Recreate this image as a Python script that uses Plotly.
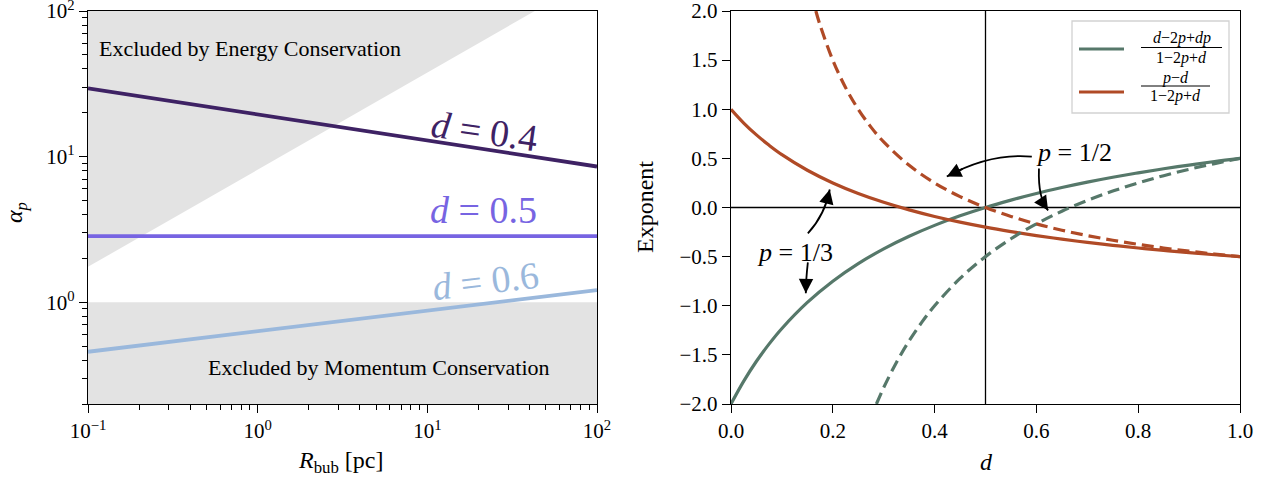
import plotly.graph_objects as go

W, H = 1266, 478
FONT = "Liberation Serif"

# ---- left panel: alpha_p versus bubble radius (power laws, straight in log-log)
R_ends = [0.1, 100.0]
alpha_d04 = [29.4, 8.55]
alpha_d05 = [2.84, 2.84]
alpha_d06 = [0.457, 1.21]

# energy-conservation boundary (alpha rises as R^(2/3)) and momentum floor
energy_R = [0.1, 43.0, 0.1]
energy_alpha = [1.75, 100.0, 100.0]
momentum_R = [0.1, 100.0, 100.0, 0.1]
momentum_alpha = [1.0, 1.0, 0.1, 0.1]

# ---- right panel: exponents versus d, for p = 1/3 (solid) and p = 1/2 (dashed)
d_solid = [0.0, 0.025, 0.05, 0.075, 0.1, 0.15, 0.2, 0.25, 0.3, 0.35, 0.4, 0.45,
           0.5, 0.55, 0.6, 0.65, 0.7, 0.75, 0.8, 0.85, 0.9, 0.95, 1.0]
green_p13 = [-2.0, -1.767, -1.565, -1.388, -1.231, -0.966, -0.75, -0.571, -0.421,
             -0.293, -0.182, -0.085, 0.0, 0.075, 0.143, 0.203, 0.258, 0.308,
             0.353, 0.394, 0.432, 0.468, 0.5]
orange_p13 = [1.0, 0.86, 0.739, 0.633, 0.538, 0.379, 0.25, 0.143, 0.053, -0.024,
              -0.091, -0.149, -0.2, -0.245, -0.286, -0.322, -0.355, -0.385,
              -0.412, -0.437, -0.459, -0.481, -0.5]

d_orange_dash = [0.1667, 0.175, 0.2, 0.225, 0.25, 0.275, 0.3, 0.35, 0.4, 0.45,
                 0.5, 0.55, 0.6, 0.65, 0.7, 0.75, 0.8, 0.85, 0.9, 0.95, 1.0]
orange_p12 = [2.0, 1.857, 1.5, 1.222, 1.0, 0.818, 0.667, 0.429, 0.25, 0.111,
              0.0, -0.091, -0.167, -0.231, -0.286, -0.333, -0.375, -0.412,
              -0.444, -0.474, -0.5]

d_green_dash = [0.2857, 0.3, 0.325, 0.35, 0.375, 0.4, 0.45, 0.5, 0.55, 0.6,
                0.65, 0.7, 0.75, 0.8, 0.85, 0.9, 0.95, 1.0]
green_p12 = [-2.0, -1.833, -1.577, -1.357, -1.167, -1.0, -0.722, -0.5, -0.318,
             -0.167, -0.038, 0.071, 0.167, 0.25, 0.324, 0.389, 0.447, 0.5]

log_ticks = [0.1, 1, 10, 100]
log_ticktext = ["10<sup>\u22121</sup>", "10<sup>0</sup>", "10<sup>1</sup>", "10<sup>2</sup>"]
y_log_ticks = [1, 10, 100]
y_log_ticktext = ["10<sup>0</sup>", "10<sup>1</sup>", "10<sup>2</sup>"]
x_minor = [m * 10 ** e for e in (-1, 0, 1) for m in range(2, 10)]
y_minor = [m * 10 ** e for e in (-1, 0, 1) for m in range(2, 10) if m * 10 ** e >= 0.2]

C_D04 = "#3e2264"
C_D05 = "#7764e2"
C_D06 = "#9ab8dc"
C_GREEN = "#56786a"
C_ORANGE = "#b04a26"
C_GRAY = "#e3e3e3"

TOP, BOTTOM = 11, 404


def px(x):
    return x / W


def py(y):
    return 1 - y / H


fig = go.Figure()

# shaded exclusion zones
fig.add_trace(go.Scatter(x=energy_R, y=energy_alpha, fill="toself", fillcolor=C_GRAY,
                         line=dict(width=0), mode="lines", hoverinfo="skip",
                         showlegend=False, xaxis="x", yaxis="y"))
fig.add_trace(go.Scatter(x=momentum_R, y=momentum_alpha, fill="toself", fillcolor=C_GRAY,
                         line=dict(width=0), mode="lines", hoverinfo="skip",
                         showlegend=False, xaxis="x", yaxis="y"))

for ys, col in ((alpha_d04, C_D04), (alpha_d05, C_D05), (alpha_d06, C_D06)):
    fig.add_trace(go.Scatter(x=R_ends, y=ys, mode="lines", line=dict(color=col, width=3.8),
                             showlegend=False, xaxis="x", yaxis="y"))

# right panel curves
fig.add_trace(go.Scatter(x=d_solid, y=green_p13, mode="lines", line_shape="spline",
                         line=dict(color=C_GREEN, width=3.2), showlegend=False,
                         xaxis="x2", yaxis="y2"))
fig.add_trace(go.Scatter(x=d_solid, y=orange_p13, mode="lines", line_shape="spline",
                         line=dict(color=C_ORANGE, width=3.2), showlegend=False,
                         xaxis="x2", yaxis="y2"))
fig.add_trace(go.Scatter(x=d_orange_dash, y=orange_p12, mode="lines", line_shape="spline",
                         line=dict(color=C_ORANGE, width=3.2, dash="12px,6px"),
                         showlegend=False, xaxis="x2", yaxis="y2"))
fig.add_trace(go.Scatter(x=d_green_dash, y=green_p12, mode="lines", line_shape="spline",
                         line=dict(color=C_GREEN, width=3.2, dash="12px,6px"),
                         showlegend=False, xaxis="x2", yaxis="y2"))

tickfont = dict(family=FONT, size=21, color="black")
axis_common = dict(showline=True, linecolor="black", linewidth=1.4, mirror=True,
                   ticks="outside", ticklen=8, tickwidth=1.3, tickcolor="black",
                   showgrid=False, zeroline=False, tickfont=tickfont,
                   automargin=False, ticklabeloverflow="allow")

fig.update_layout(
    width=W, height=H,
    margin=dict(l=0, r=0, t=0, b=0, autoexpand=False),
    paper_bgcolor="white", plot_bgcolor="white",
    font=dict(family=FONT, color="black"),
    xaxis=dict(type="log", range=[-1, 2], domain=[px(88), px(597)],
               tickvals=log_ticks, ticktext=log_ticktext,
               minor=dict(tickvals=x_minor, ticks="outside", ticklen=5,
                          tickcolor="black", tickwidth=1),
               anchor="y", **axis_common),
    yaxis=dict(type="log", range=[-0.69897, 2], domain=[py(BOTTOM), py(TOP)],
               tickvals=y_log_ticks, ticktext=y_log_ticktext,
               minor=dict(tickvals=y_minor, ticks="outside", ticklen=5,
                          tickcolor="black", tickwidth=1),
               anchor="x", **axis_common),
    xaxis2=dict(range=[0, 1], domain=[px(731), px(1240)], dtick=0.2, tickformat=".1f",
                anchor="y2", **axis_common),
    yaxis2=dict(range=[-2, 2], domain=[py(BOTTOM), py(TOP)], dtick=0.5, tickformat=".1f",
                anchor="x2", **axis_common),
)

# reference lines at d = 1/2 and exponent = 0
fig.add_shape(type="line", xref="x2", yref="y2", x0=0.5, x1=0.5, y0=-2, y1=2,
              line=dict(color="black", width=1.3), layer="below")
fig.add_shape(type="line", xref="x2", yref="y2", x0=0, x1=1, y0=0, y1=0,
              line=dict(color="black", width=1.5), layer="below")

# curved arrows: quadratic Bezier (start, control, tip) plus a filled head
arrows = [
    ((0.591, 0.518), (0.509, 0.558), (0.424, 0.315)),
    ((0.605, 0.396), (0.603, 0.091), (0.623, -0.030)),
    ((0.151, -0.264), (0.185, -0.071), (0.194, 0.183)),
    ((0.151, -0.558), (0.147, -0.741), (0.147, -0.873)),
]
for (s, c, e) in arrows:
    fig.add_shape(type="path", xref="x2", yref="y2",
                  path=f"M {s[0]},{s[1]} Q {c[0]},{c[1]} {e[0]},{e[1]}",
                  line=dict(color="black", width=1.8))
    t = 0.8
    bx = (1 - t) ** 2 * s[0] + 2 * (1 - t) * t * c[0] + t ** 2 * e[0]
    by = (1 - t) ** 2 * s[1] + 2 * (1 - t) * t * c[1] + t ** 2 * e[1]
    fig.add_annotation(x=e[0], y=e[1], ax=bx, ay=by, xref="x2", yref="y2",
                       axref="x2", ayref="y2", text="", showarrow=True,
                       arrowhead=2, arrowsize=1.6, arrowwidth=1.8, arrowcolor="black",
                       standoff=0)


def label(x, y, text, size, color="black", angle=0, xanchor="center"):
    fig.add_annotation(x=px(x), y=py(y), xref="paper", yref="paper", text=text,
                       showarrow=False, xanchor=xanchor, yanchor="middle",
                       textangle=angle, font=dict(family=FONT, size=size, color=color))


label(97, 48, "Excluded by Energy Conservation", 22, xanchor="left")
label(206, 367, "Excluded by Momentum Conservation", 22, xanchor="left")
label(484, 131, "<i>d</i> = 0.4", 38, C_D04, angle=8)
label(483, 210, "<i>d</i> = 0.5", 38, C_D05)
label(485, 281, "<i>d</i> = 0.6", 38, C_D06, angle=-7)
label(1074, 153, "<i>p</i> = 1/2", 26)
label(795, 252, "<i>p</i> = 1/3", 26)

# axis titles
label(16, 213, "<i>α</i><sub><i>p</i></sub>", 24, angle=-90)
label(340, 462, "<i>R</i><sub>bub</sub> [pc]", 24)
label(645, 207, "Exponent", 24, angle=-90)
label(986, 462, "<i>d</i>", 24)

# legend box with fraction labels
fig.add_shape(type="rect", xref="paper", yref="paper", x0=px(1072), x1=px(1229),
              y0=py(113), y1=py(21), line=dict(color="#d2d2d2", width=1.3),
              fillcolor="rgba(255,255,255,0.85)")
for yy, col in ((49, C_GREEN), (92, C_ORANGE)):
    fig.add_shape(type="line", xref="paper", yref="paper", x0=px(1079), x1=px(1124),
                  y0=py(yy), y1=py(yy), line=dict(color=col, width=3.2))
fracs = [
    ("<i>d</i>\u22122<i>p</i>+<i>dp</i>", "1\u22122<i>p</i>+<i>d</i>", 37.5, 47.5, 57.5, 1141, 1222),
    ("<i>p</i>\u2212<i>d</i>", "1\u22122<i>p</i>+<i>d</i>", 77.5, 86, 96, 1141, 1210),
]
for num, den, yn, yb, yd, xl, xr in fracs:
    xc = (xl + xr) / 2
    label(xc, yn, num, 16)
    label(xc, yd, den, 16)
    fig.add_shape(type="line", xref="paper", yref="paper", x0=px(xl), x1=px(xr),
                  y0=py(yb), y1=py(yb), line=dict(color="black", width=1))

fig.write_html("out.html")
